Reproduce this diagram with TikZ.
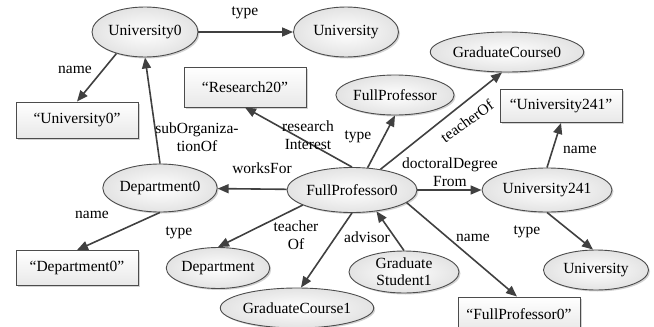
\documentclass[tikz,border=0pt]{standalone}
\usepackage{fontspec}
\setmainfont{Liberation Serif}
\usetikzlibrary{shapes.geometric,arrows.meta,shadows}

\begin{document}
\begin{tikzpicture}[x=1pt,y=-1pt,
  font=\fontsize{15.5}{17}\selectfont,
  res/.style={ellipse,draw=black!70,line width=0.9pt,inner sep=0pt,
    inner color=white,outer color=gray!22,
    drop shadow={shadow xshift=1.5pt,shadow yshift=-1.5pt,opacity=0.35}},
  lit/.style={rectangle,draw=black!70,line width=0.9pt,inner sep=0pt,
    minimum width=122pt,top color=white,bottom color=gray!18,
    drop shadow={shadow xshift=1.5pt,shadow yshift=-1.5pt,opacity=0.35}},
  rel/.style={draw=black!75,line width=1.6pt,-{Triangle[length=11pt,width=9pt]}},
  lbl/.style={align=center,inner sep=0pt,font=\fontsize{15.5}{17.5}\selectfont}]
\useasboundingbox (0,0) rectangle (654,327);

% resources
\node[res,minimum width=106pt,minimum height=50pt] (univ0) at (145,32) {University0};
\node[res,minimum width=105pt,minimum height=50pt] (univA) at (346,32) {University};
\node[res,minimum width=108pt,minimum height=48pt] (dept0) at (160,188) {Department0};
\node[res,minimum width=130pt,minimum height=45pt] (prof0) at (352,190) {FullProfessor0};
\node[res,minimum width=116pt,minimum height=40pt] (prof) at (395,95) {FullProfessor};
\node[res,minimum width=150pt,minimum height=40pt] (course0) at (507,52) {GraduateCourse0};
\node[res,minimum width=130pt,minimum height=44pt] (univ241) at (547,190) {University241};
\node[res,minimum width=102pt,minimum height=41pt] (dept) at (218,268) {Department};
\node[res,minimum width=148pt,minimum height=40pt] (course1) at (297,308) {GraduateCourse1};
\node[res,minimum width=110pt,minimum height=42pt,align=center] (stud1) at (404,272) {Graduate\\Student1};
\node[res,minimum width=105pt,minimum height=40pt] (univB) at (596,270) {University};

% literals
\node[lit,minimum height=36pt] (litU0) at (77,120) {“University0"};
\node[lit,minimum height=40pt] (litR20) at (245,87) {“Research20"};
\node[lit,minimum height=33pt] (litU241) at (561,106) {“University241"};
\node[lit,minimum height=35pt] (litD0) at (77,268) {“Department0"};
\node[lit,minimum height=34pt] (litP0) at (519,314) {“FullProfessor0"};

% edges
\draw[rel] (univ0) -- (univA);
\draw[rel] (univ0.217) -- (litU0.north);
\draw[rel] (dept0.north) -- (univ0.south);
\draw[rel] (dept0.south) -- (litD0.north);
\draw[rel] (prof0) -- (dept0);
\draw[rel] (prof0.north) -- (litR20.south);
\draw[rel] (prof0.55) -- (prof.south);
\draw[rel] (prof0.36) -- ([xshift=-5pt]course0.south);
\draw[rel] (prof0) -- (univ241);
\draw[rel] (prof0.197) -- (dept.north);
\draw[rel] (prof0.south) -- ([xshift=4pt]course1.north);
\draw[rel] (stud1.north) -- (prof0.-41);
\draw[rel] (prof0.-13) -- ([xshift=-2pt]litP0.north);
\draw[rel] (univ241.north) -- (litU241.south);
\draw[rel] (univ241.south) -- ([xshift=-3pt]univB.north);

% labels
\node[lbl] (lType1) at (245,13) {type};
\node[lbl] (lName1) at (75,70) {name};
\node[lbl] (lSub) at (197,137) {subOrganiza-\\tionOf};
\node[lbl] (lRes) at (308,135) {research\\Interest};
\node[lbl] (lType2) at (358,137) {type};
\node[lbl,rotate=36] (lTeach0) at (467,121) {teacherOf};
\node[lbl] (lDoc) at (450,172) {doctoralDegree\\From};
\node[lbl] (lWorks) at (262,168) {worksFor};
\node[lbl] (lName2) at (580,150) {name};
\node[lbl] (lName3) at (92,215) {name};
\node[lbl] (lType3) at (179,233) {type};
\node[lbl] (lTeach) at (296,235) {teacher\\Of};
\node[lbl] (lAdv) at (367,237) {advisor};
\node[lbl] (lName4) at (473,238) {name};
\node[lbl] (lType4) at (527,232) {type};
\end{tikzpicture}
\end{document}
